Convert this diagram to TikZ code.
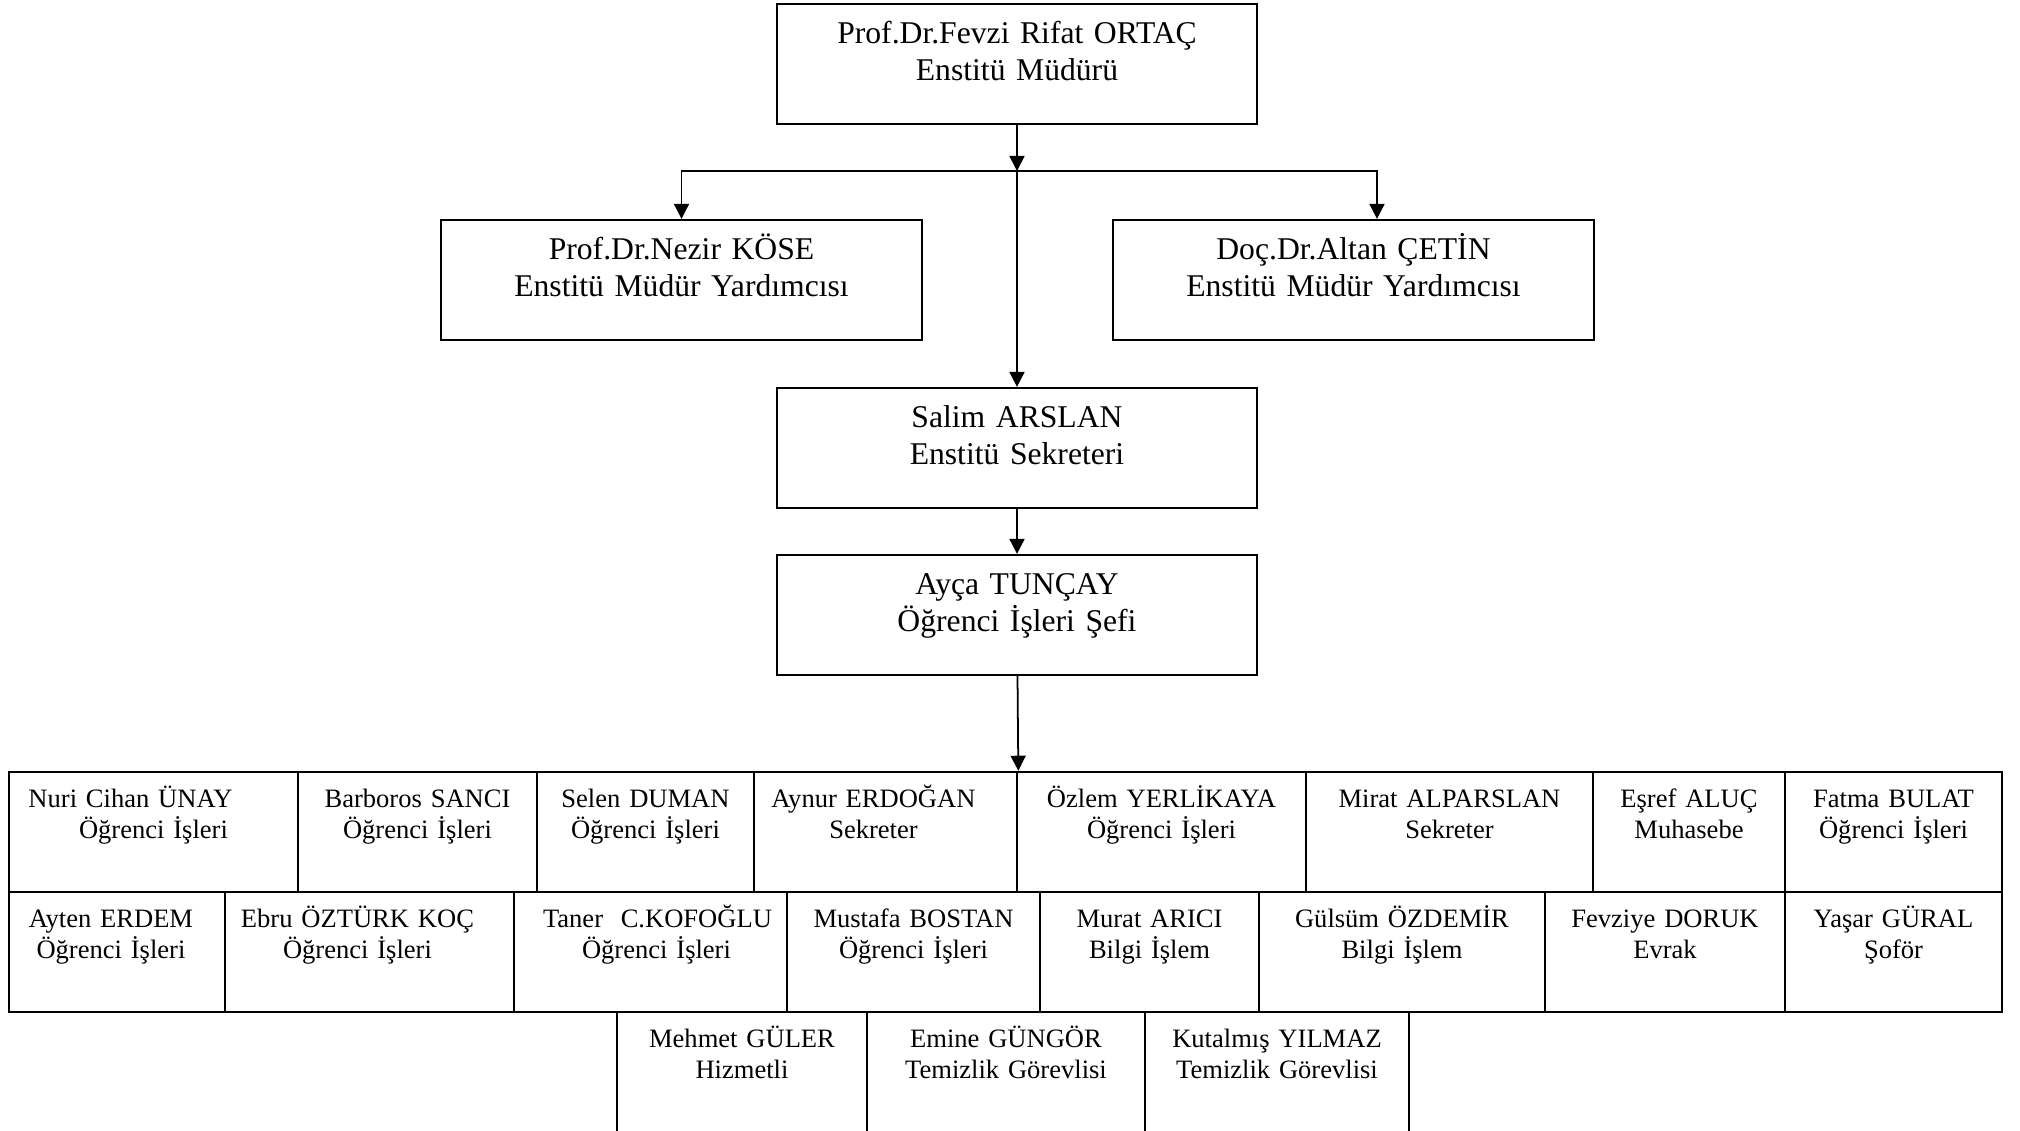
\documentclass[tikz,border=0pt]{standalone}
\usepackage{fontspec}
\setmainfont{Liberation Serif}
\usetikzlibrary{arrows.meta}

\begin{document}
\begin{tikzpicture}[x=0.01cm,y=-0.01cm,
  >={Triangle[length=0.15cm,width=0.15cm]},
  kutu/.style={draw,line width=0.6pt,inner sep=0pt,text width=4.8cm,align=center,
    text height=0.4cm,text depth=0.8cm,font=\fontsize{9}{10.5}\selectfont},
  hucre/.style={draw,line width=0.7pt,inner sep=0pt,align=center,
    text height=0.36cm,text depth=0.84cm,font=\fontsize{7.55}{8.8}\selectfont},
  ok/.style={->,line width=0.5pt}]
\useasboundingbox (0,0) rectangle (2020,1131);
\clip (0,0) rectangle (2020,1131);

% yonetim
\node[kutu] (mudur) at (1017,64) {Prof.Dr.Fevzi Rifat ORTAÇ\\Enstitü Müdürü};
\node[kutu,text width=4.81cm] (yrd1) at (681.5,280) {Prof.Dr.Nezir KÖSE\\Enstitü Müdür Yardımcısı};
\node[kutu,text width=4.81cm] (yrd2) at (1353.5,280) {Doç.Dr.Altan ÇETİN\\Enstitü Müdür Yardımcısı};
\node[kutu] (sekreter) at (1017,448) {Salim ARSLAN\\Enstitü Sekreteri};
\node[kutu] (sef) at (1017,615) {Ayça TUNÇAY\\Öğrenci İşleri Şefi};

% personel, 1. satir
\node[hucre,text width=2.89cm] (r1a) at (153.5,832) {Nuri Cihan ÜNAY\hbox to 0.46cm{}\\Öğrenci İşleri};
\node[hucre,text width=2.39cm] (r1b) at (417.5,832) {Barboros SANCI\\Öğrenci İşleri};
\node[hucre,text width=2.17cm] (r1c) at (645.5,832) {Selen DUMAN\\Öğrenci İşleri};
\node[hucre,text width=2.63cm] (r1d) at (885.5,832) {Aynur ERDOĞAN\hbox to 0.24cm{}\\Sekreter\hbox to 0.24cm{}};
\node[hucre,text width=2.89cm] (r1e) at (1161.5,832) {Özlem YERLİKAYA\\Öğrenci İşleri};
\node[hucre,text width=2.87cm] (r1f) at (1449.5,832) {Mirat ALPARSLAN\\Sekreter};
\node[hucre,text width=1.92cm] (r1g) at (1689,832) {Eşref ALUÇ\\Muhasebe};
\node[hucre,text width=2.17cm] (r1h) at (1893.5,832) {Fatma BULAT\\Öğrenci İşleri};

% 2. satir
\node[hucre,text width=2.16cm] (r2a) at (117,952) {Ayten ERDEM\hbox to 0.12cm{}\\Öğrenci İşleri\hbox to 0.12cm{}};
\node[hucre,text width=2.89cm] (r2b) at (369.5,952) {Ebru ÖZTÜRK KOÇ\hbox to 0.24cm{}\\Öğrenci İşleri\hbox to 0.24cm{}};
\node[hucre,text width=2.73cm] (r2c) at (650.5,952) {\hspace*{0.14cm}Taner\ \ C.KOFOĞLU\\\hspace*{0.12cm}Öğrenci İşleri};
\node[hucre,text width=2.53cm] (r2d) at (913.5,952) {Mustafa BOSTAN\\Öğrenci İşleri};
\node[hucre,text width=2.19cm] (r2e) at (1149.5,952) {Murat ARICI\\Bilgi İşlem};
\node[hucre,text width=2.86cm] (r2f) at (1402,952) {Gülsüm ÖZDEMİR\\Bilgi İşlem};
\node[hucre,text width=2.40cm] (r2g) at (1665,952) {Fevziye DORUK\\Evrak};
\node[hucre,text width=2.17cm] (r2h) at (1893.5,952) {Yaşar GÜRAL\\Şoför};

% 3. satir
\node[hucre,text depth=1.04cm,text width=2.50cm] (r3a) at (742,1082) {Mehmet GÜLER\\Hizmetli};
\node[hucre,text depth=1.04cm,text width=2.78cm] (r3b) at (1006,1082) {Emine GÜNGÖR\\Temizlik Görevlisi};
\node[hucre,text depth=1.04cm,text width=2.64cm] (r3c) at (1277,1082) {Kutalmış YILMAZ\\Temizlik Görevlisi};

% baglantilar
\coordinate (dal) at (1017,171);
\coordinate (sag) at (1377,171);
\draw[ok] (mudur) -- (dal);
\draw[ok] (dal) -- (sekreter);
\draw[ok] (dal) -| (yrd1);
\draw[ok] (dal) -- (sag) -- (sag |- yrd2.north);
\draw[ok] (sekreter) -- (sef);
\draw[ok] (sef) -- (r1d.north east);
\end{tikzpicture}
\end{document}
